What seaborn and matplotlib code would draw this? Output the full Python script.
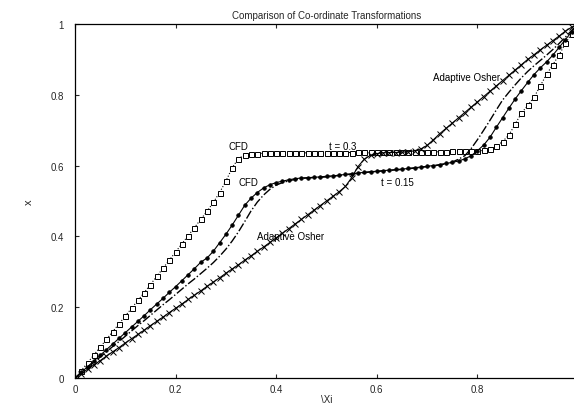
import matplotlib
matplotlib.use("Agg")
import matplotlib.pyplot as plt
import seaborn as sns
import pandas as pd

# computational coordinate (xi) grid
xi = [0, 0.0125, 0.025, 0.0375, 0.05, 0.0625, 0.075, 0.0875, 0.1, 0.1125,
      0.125, 0.1375, 0.15, 0.1625, 0.175, 0.1875, 0.2, 0.2125, 0.225, 0.2375,
      0.25, 0.2625, 0.275, 0.2875, 0.3, 0.3125, 0.325, 0.3375, 0.35, 0.3625,
      0.375, 0.3875, 0.4, 0.4125, 0.425, 0.4375, 0.45, 0.4625, 0.475, 0.4875,
      0.5, 0.5125, 0.525, 0.5375, 0.55, 0.5625, 0.575, 0.5875, 0.6, 0.6125,
      0.625, 0.6375, 0.65, 0.6625, 0.675, 0.6875, 0.7, 0.7125, 0.725, 0.7375,
      0.75, 0.7625, 0.775, 0.7875, 0.8, 0.8125, 0.825, 0.8375, 0.85, 0.8625,
      0.875, 0.8875, 0.9, 0.9125, 0.925, 0.9375, 0.95, 0.9625, 0.975, 0.9875, 1.0]

# CFD, t = 0.3 (open squares, dotted)
cfd_t03 = [0, 0.021, 0.043, 0.065, 0.087, 0.109, 0.131, 0.153, 0.175, 0.197,
           0.219, 0.241, 0.264, 0.287, 0.310, 0.333, 0.356, 0.379, 0.402, 0.425,
           0.448, 0.471, 0.496, 0.524, 0.556, 0.594, 0.620, 0.630, 0.633, 0.634,
           0.635, 0.635, 0.635, 0.635, 0.636, 0.636, 0.636, 0.636, 0.636, 0.637,
           0.637, 0.637, 0.637, 0.637, 0.637, 0.638, 0.638, 0.638, 0.638, 0.638,
           0.638, 0.638, 0.639, 0.639, 0.639, 0.639, 0.639, 0.639, 0.639, 0.639,
           0.640, 0.640, 0.640, 0.640, 0.641, 0.643, 0.647, 0.654, 0.668, 0.686,
           0.717, 0.748, 0.770, 0.793, 0.825, 0.858, 0.885, 0.913, 0.945, 0.973, 1.0]

# Adaptive Osher, t = 0.3 (x markers, solid)
osher_t03 = [0, 0.012, 0.025, 0.037, 0.049, 0.062, 0.074, 0.086, 0.099, 0.111,
             0.123, 0.135, 0.148, 0.160, 0.172, 0.185, 0.197, 0.209, 0.222, 0.234,
             0.246, 0.259, 0.271, 0.283, 0.296, 0.308, 0.320, 0.333, 0.345, 0.358,
             0.370, 0.383, 0.396, 0.409, 0.422, 0.435, 0.448, 0.461, 0.474, 0.487,
             0.500, 0.513, 0.526, 0.541, 0.566, 0.597, 0.618, 0.629, 0.634, 0.636,
             0.637, 0.637, 0.638, 0.639, 0.642, 0.647, 0.657, 0.673, 0.690, 0.705,
             0.720, 0.735, 0.750, 0.765, 0.780, 0.795, 0.810, 0.825, 0.840, 0.855,
             0.870, 0.885, 0.900, 0.913, 0.927, 0.940, 0.953, 0.966, 0.980, 0.991, 1.0]

# CFD, t = 0.15 (filled circles, solid)
cfd_t015 = [0, 0.016, 0.032, 0.048, 0.064, 0.080, 0.096, 0.112, 0.128, 0.144,
            0.160, 0.176, 0.193, 0.209, 0.225, 0.242, 0.258, 0.275, 0.292, 0.309,
            0.327, 0.339, 0.358, 0.382, 0.406, 0.432, 0.460, 0.488, 0.508, 0.524,
            0.537, 0.546, 0.552, 0.556, 0.560, 0.563, 0.565, 0.566, 0.567, 0.568,
            0.570, 0.571, 0.573, 0.575, 0.577, 0.579, 0.581, 0.583, 0.584, 0.586,
            0.587, 0.589, 0.590, 0.592, 0.594, 0.596, 0.598, 0.600, 0.603, 0.606,
            0.609, 0.613, 0.619, 0.628, 0.642, 0.658, 0.680, 0.708, 0.735, 0.762,
            0.788, 0.812, 0.835, 0.857, 0.876, 0.893, 0.912, 0.934, 0.956, 0.978, 1.0]

# Adaptive Osher, t = 0.15 (dash-dot)
osher_t015 = [0, 0.015, 0.030, 0.044, 0.059, 0.074, 0.089, 0.103, 0.118, 0.133,
              0.148, 0.162, 0.177, 0.192, 0.207, 0.221, 0.236, 0.251, 0.266, 0.280,
              0.295, 0.310, 0.326, 0.344, 0.364, 0.387, 0.413, 0.442, 0.472, 0.497,
              0.517, 0.533, 0.545, 0.552, 0.557, 0.561, 0.564, 0.565, 0.566, 0.567,
              0.568, 0.570, 0.572, 0.574, 0.576, 0.578, 0.580, 0.582, 0.583, 0.585,
              0.586, 0.588, 0.589, 0.591, 0.593, 0.595, 0.597, 0.599, 0.602, 0.605,
              0.610, 0.618, 0.628, 0.648, 0.673, 0.700, 0.728, 0.757, 0.785, 0.807,
              0.828, 0.848, 0.866, 0.882, 0.897, 0.912, 0.928, 0.945, 0.963, 0.982, 1.0]

for s in (cfd_t03, osher_t03, cfd_t015, osher_t015):
    assert len(s) == len(xi), len(s)

x_ticks = [0, 0.2, 0.4, 0.6, 0.8]
x_tick_labels = ["0", "0.2", "0.4", "0.6", "0.8"]
y_ticks = [0, 0.2, 0.4, 0.6, 0.8, 1.0]
y_tick_labels = ["0", "0.2", "0.4", "0.6", "0.8", "1"]

sns.set_style("ticks")
plt.rcParams["font.family"] = ["Liberation Sans", "DejaVu Sans"]

W, H = 574, 406
fig = plt.figure(figsize=(W / 100, H / 100), dpi=100)
ax = fig.add_axes([75 / W, 27 / H, 503 / W, 354 / H])

df = pd.DataFrame({"xi": xi, "cfd03": cfd_t03, "osh03": osher_t03,
                   "cfd015": cfd_t015, "osh015": osher_t015})

sns.lineplot(data=df, x="xi", y="cfd03", ax=ax, color="black", linestyle=":",
             linewidth=0.8, marker="s", markersize=3.6, markerfacecolor="white",
             markeredgecolor="black", markeredgewidth=0.7)
sns.lineplot(data=df, x="xi", y="osh03", ax=ax, color="black", linestyle="-",
             linewidth=0.8, marker="x", markersize=3.8, markeredgecolor="black",
             markeredgewidth=0.7)
sns.lineplot(data=df, x="xi", y="cfd015", ax=ax, color="black", linestyle="-",
             linewidth=0.8, marker="o", markersize=2.6, markerfacecolor="black",
             markeredgecolor="black", markeredgewidth=0.5)
sns.lineplot(data=df, x="xi", y="osh015", ax=ax, color="black", linestyle="-.",
             linewidth=1.0)

ax.set_xlim(0, 1)
ax.set_ylim(0, 1)
ax.set_xticks(x_ticks)
ax.set_xticklabels(x_tick_labels)
ax.set_yticks(y_ticks)
ax.set_yticklabels(y_tick_labels)
ax.tick_params(direction="in", length=3, width=0.8, labelsize=7,
               top=True, right=True)
ax.tick_params(axis="x", pad=4)
ax.tick_params(axis="y", pad=8)
for side in ("left", "bottom", "top"):
    ax.spines[side].set_visible(True)
    ax.spines[side].set_linewidth(0.9)
    ax.spines[side].set_color("black")
ax.spines["right"].set_visible(False)

ax.set_xlabel("\\Xi", fontsize=7, labelpad=0)
ax.set_ylabel("x", fontsize=8, rotation=90, labelpad=12)
ax.set_title("Comparison of Co-ordinate Transformations", fontsize=7, pad=4)

txt = dict(fontsize=7, ha="center", va="center", color="black")
ax.text(0.324, 0.655, "CFD", **txt)
ax.text(0.533, 0.655, "t = 0.3", **txt)
ax.text(0.344, 0.554, "CFD", **txt)
ax.text(0.640, 0.554, "t = 0.15", **txt)
ax.text(0.428, 0.400, "Adaptive Osher", **txt)
ax.text(0.779, 0.850, "Adaptive Osher", **txt)

fig.savefig("out.png", dpi=100)
